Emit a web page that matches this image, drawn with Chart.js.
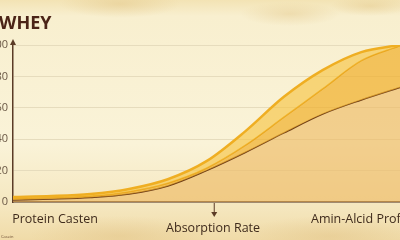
<!DOCTYPE html>
<html>
<head>
<meta charset="utf-8">
<script src="https://cdn.jsdelivr.net/npm/chart.js@4"></script>
<style>
  html, body { margin: 0; padding: 0; }
  body {
    width: 400px; height: 240px; overflow: hidden; position: relative;
    background:
      radial-gradient(ellipse 60px 14px at 120px 4px, rgba(225,195,130,0.45), transparent),
      radial-gradient(ellipse 50px 12px at 290px 14px, rgba(225,195,130,0.4), transparent),
      radial-gradient(ellipse 40px 10px at 370px 6px, rgba(225,195,130,0.4), transparent),
      radial-gradient(ellipse 90px 20px at 120px 236px, rgba(220,185,120,0.35), transparent),
      radial-gradient(ellipse 90px 20px at 330px 236px, rgba(220,185,120,0.35), transparent),
      linear-gradient(#f3e3b4 0, #f8efcf 16px, #faf3d8 60%, #f5e7bf 86%, #f0dba8 100%);
  }
  #wrap { position: absolute; left: -29px; top: 0; width: 429px; height: 240px; }
  #title {
    position: absolute; left: -1px; top: 10px;
    font: 700 18px "Open Sans", sans-serif; color: #4b2417;
  }
  #tiny { position: absolute; left: 1px; top: 234px; font: 4px "Open Sans", sans-serif; color: #6a4a30; }
</style>
</head>
<body>
<div id="wrap"><canvas id="chart" width="429" height="240"></canvas></div>
<div id="title">WHEY</div>
<div id="tiny">Casein</div>
<script>
const xValues = [0, 10, 20, 30, 40, 50, 60, 70, 80, 90, 100];
const wheyOuter = [3.2, 3.8, 5.1, 8.3, 14.5, 26, 45, 67, 84, 95.5, 100];
const wheyInner = [2.2, 2.8, 3.8, 6.6, 12, 21.5, 36, 54, 72, 90, 99.5];
const caseinLine = [1.3, 1.9, 2.9, 5.1, 10.2, 20, 31.5, 44, 56, 65, 73];
const yTicks = [0, 20, 40, 60, 80, 100];
const xLabels = ['Protein Casten', 'Absorption Rate', 'Amin-Alcid Profile'];
const xLabelAt = [-0.2, 51.7, 77];
const arrowAt = 52;

const toPts = arr => arr.map((v, i) => ({ x: xValues[i], y: v }));

const decor = {
  id: 'decor',
  afterDraw(chart) {
    const { ctx, chartArea: a, scales: { x } } = chart;
    ctx.save();
    ctx.strokeStyle = '#5b3b26';
    ctx.fillStyle = '#5b3b26';
    ctx.lineWidth = 1.5;
    // y axis extension + arrow
    ctx.beginPath();
    ctx.moveTo(a.left, a.top);
    ctx.lineTo(a.left, a.top - 4);
    ctx.stroke();
    ctx.beginPath();
    ctx.moveTo(a.left, a.top - 6);
    ctx.lineTo(a.left - 3, a.top);
    ctx.lineTo(a.left + 3, a.top);
    ctx.closePath();
    ctx.fill();
    // down arrow below x axis
    const ax = x.getPixelForValue(arrowAt);
    ctx.lineWidth = 1;
    ctx.beginPath();
    ctx.moveTo(ax, a.bottom + 1);
    ctx.lineTo(ax, a.bottom + 13);
    ctx.stroke();
    ctx.beginPath();
    ctx.moveTo(ax, a.bottom + 15);
    ctx.lineTo(ax - 3, a.bottom + 10);
    ctx.lineTo(ax + 3, a.bottom + 10);
    ctx.closePath();
    ctx.fill();
    // bottom labels
    ctx.fillStyle = '#3f2b1c';
    ctx.font = '12.5px "Open Sans", sans-serif';
    ctx.textBaseline = 'middle';
    const aligns = ['left', 'center', 'left'];
    const rows = [a.bottom + 17, a.bottom + 26, a.bottom + 17];
    xLabels.forEach((t, i) => {
      ctx.textAlign = aligns[i];
      ctx.fillText(t, x.getPixelForValue(xLabelAt[i]), rows[i]);
    });
    ctx.restore();
  }
};

const common = { tension: 0.4, cubicInterpolationMode: 'monotone', pointRadius: 0 };

new Chart(document.getElementById('chart'), {
  type: 'line',
  data: {
    datasets: [
      {
        ...common,
        label: 'Whey',
        data: toPts(wheyOuter),
        borderColor: '#efae22',
        borderWidth: 2.5,
        backgroundColor: 'rgba(246,194,62,0.62)',
        fill: '+1'
      },
      {
        ...common,
        label: 'Whey inner',
        data: toPts(wheyInner),
        borderColor: '#e9a41c',
        borderWidth: 1.5,
        backgroundColor: 'rgba(240,176,44,0.72)',
        fill: '+1'
      },
      {
        ...common,
        label: 'Casein',
        data: toPts(caseinLine),
        borderColor: '#6e3d18',
        borderWidth: 1.5,
        backgroundColor: 'rgba(238,184,96,0.62)',
        fill: 'origin'
      }
    ]
  },
  options: {
    responsive: false,
    animation: false,
    layout: { padding: { top: 45, bottom: 38, right: 0, left: 0 } },
    plugins: { legend: { display: false }, tooltip: { enabled: false } },
    scales: {
      x: {
        type: 'linear', min: 0, max: 100,
        grid: { display: false },
        ticks: { display: false },
        border: { display: true, color: '#5b3b26', width: 1.5 },
        afterFit: s => { s.height = 0; }
      },
      y: {
        min: 0, max: 100,
        afterBuildTicks: s => { s.ticks = yTicks.map(v => ({ value: v })); },
        afterFit: s => { s.width = 42; },
        grid: { color: '#e6dcbd', lineWidth: 1, drawTicks: false },
        border: { display: true, color: '#5b3b26', width: 1.5 },
        ticks: { padding: 5, color: '#6a5845', font: { size: 11, family: 'Open Sans' } }
      }
    }
  },
  plugins: [decor]
});
</script>
</body>
</html>
